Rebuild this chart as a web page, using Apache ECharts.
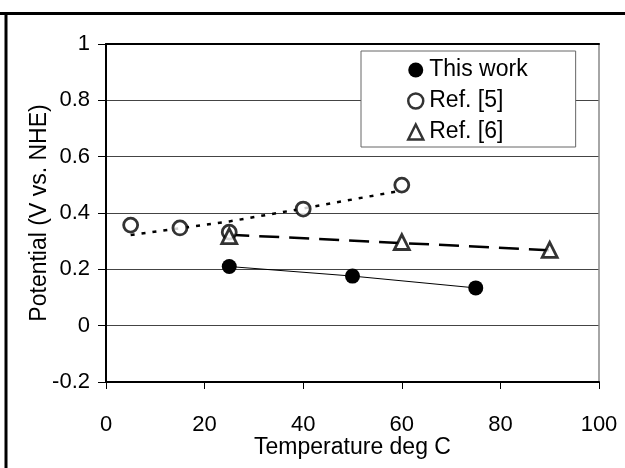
<!DOCTYPE html>
<html><head><meta charset="utf-8">
<script src="https://cdn.jsdelivr.net/npm/echarts@6/dist/echarts.min.js"></script>
<style>html,body{margin:0;padding:0;background:#fff}#c{width:625px;height:468px}</style>
</head><body><div id="c"></div>
<script>
// Data
const thisWorkT = [25, 50, 75];
const thisWorkV = [0.21, 0.176, 0.134];
const ref5T = [5, 15, 25, 40, 60];
const ref5V = [0.357, 0.347, 0.332, 0.414, 0.499];
const ref5TrendT = [5, 25, 40, 60];
const ref5TrendV = [0.322, 0.37, 0.416, 0.48];
const ref6T = [25, 60, 90];
const ref6V = [0.318, 0.297, 0.269];
const ref6TrendT = [25, 90];
const ref6TrendV = [0.323, 0.268];
const xTicks = [0, 20, 40, 60, 80, 100];
const yTicks = [-0.2, 0, 0.2, 0.4, 0.6, 0.8, 1];

const pairs = (xs, ys) => xs.map((x, i) => [x, ys[i]]);
const FONT = 'Liberation Sans, Arial, sans-serif';

const chart = echarts.init(document.getElementById('c'), null, {renderer: 'canvas'});
chart.setOption({
  animation: false,
  backgroundColor: '#fff',
  textStyle: {fontFamily: FONT, color: '#000'},
  grid: {left: 106, top: 44, right: 26, bottom: 86, containLabel: false},
  xAxis: [{
    type: 'value', min: xTicks[0], max: xTicks[xTicks.length - 1], interval: 20,
    position: 'bottom',
    name: 'Temperature deg C', nameLocation: 'middle', nameGap: 54, nameMoveOverlap: false,
    nameTextStyle: {fontSize: 23, fontFamily: FONT, color: '#000'},
    axisLine: {show: true, onZero: false, lineStyle: {color: '#000', width: 2}},
    axisTick: {show: true, inside: false, length: 7, lineStyle: {color: '#000', width: 1}},
    axisLabel: {fontSize: 22, fontFamily: FONT, color: '#000', margin: 32},
    splitLine: {show: false}
  }, {
    type: 'value', min: 0, max: 100, position: 'top',
    axisLine: {show: true, onZero: false, lineStyle: {color: '#000', width: 2}},
    axisTick: {show: false}, axisLabel: {show: false}, splitLine: {show: false}
  }],
  yAxis: [{
    type: 'value', min: yTicks[0], max: yTicks[yTicks.length - 1], interval: 0.2,
    position: 'left',
    name: 'Potential (V vs. NHE)', nameLocation: 'middle', nameGap: 55, nameMoveOverlap: false,
    nameTextStyle: {fontSize: 23, fontFamily: FONT, color: '#000'},
    axisLine: {show: true, onZero: false, lineStyle: {color: '#000', width: 2}},
    axisTick: {show: true, inside: false, length: 8, lineStyle: {color: '#000', width: 1}},
    axisLabel: {fontSize: 22, fontFamily: FONT, color: '#000', margin: 16,
      formatter: v => String(Math.round(v * 10) / 10)},
    splitLine: {show: true, lineStyle: {color: '#444', width: 1}}
  }, {
    type: 'value', min: -0.2, max: 1, position: 'right',
    axisLine: {show: true, onZero: false, lineStyle: {color: '#888', width: 1.5}},
    axisTick: {show: false}, axisLabel: {show: false}, splitLine: {show: false}
  }],
  legend: {
    orient: 'vertical', left: 361, top: 51,
    padding: [4, 48, 0, 46],
    itemGap: 1, itemWidth: 15, itemHeight: 15,
    backgroundColor: '#fff', borderColor: '#666', borderWidth: 1, borderRadius: 0,
    textStyle: {fontSize: 23, fontFamily: FONT, color: '#000', lineHeight: 30, padding: [0, 0, 0, 1]},
    data: [
      {name: 'This work', icon: 'circle', itemStyle: {color: '#000', borderWidth: 0}},
      {name: 'Ref. [5]', icon: 'circle', itemStyle: {color: '#fff', borderColor: '#000', borderWidth: 2.5}},
      {name: 'Ref. [6]', icon: 'triangle', itemStyle: {color: '#fff', borderColor: '#000', borderWidth: 2.5}}
    ]
  },
  graphic: [
    {type: 'line', shape: {x1: 0, y1: 13.5, x2: 625, y2: 13.5}, style: {stroke: '#000', lineWidth: 3}, z: 100},
    {type: 'line', shape: {x1: 6, y1: 12, x2: 6, y2: 468}, style: {stroke: '#000', lineWidth: 3}, z: 100}
  ],
  series: [
    {
      name: 'Ref. [5] trend', type: 'line', data: pairs(ref5TrendT, ref5TrendV),
      showSymbol: false, symbol: 'none', smooth: false, silent: true,
      lineStyle: {color: '#000', width: 2.5, type: [4, 7]}, z: 2
    },
    {
      name: 'Ref. [6] trend', type: 'line', data: pairs(ref6TrendT, ref6TrendV),
      showSymbol: false, symbol: 'none', silent: true,
      lineStyle: {color: '#000', width: 2.5, type: [20, 10]}, z: 2
    },
    {
      name: 'This work', type: 'line', data: pairs(thisWorkT, thisWorkV),
      symbol: 'circle', symbolSize: 15,
      itemStyle: {color: '#000'}, lineStyle: {color: '#000', width: 1}, z: 3
    },
    {
      name: 'Ref. [5]', type: 'scatter', data: pairs(ref5T, ref5V),
      symbol: 'circle', symbolSize: 14,
      itemStyle: {color: '#fff', borderColor: '#000', borderWidth: 2.8}, z: 4
    },
    {
      name: 'Ref. [6]', type: 'scatter', data: pairs(ref6T, ref6V),
      symbol: 'triangle', symbolSize: 15,
      itemStyle: {color: '#fff', borderColor: '#000', borderWidth: 2.8}, z: 5
    }
  ]
});
</script></body></html>
